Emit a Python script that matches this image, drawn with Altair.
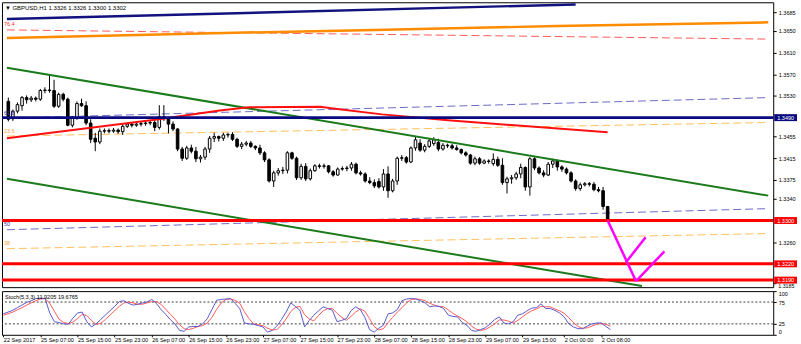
import altair as alt
import pandas as pd

# ---------------- data ----------------
opens = [1.3520,1.3488,1.3502,1.3512,1.3527,1.3523,1.3526,1.3524,1.3540,1.3541,
1.3540,1.3511,1.3533,1.3524,1.3476,1.3489,1.3516,1.3512,1.3480,1.3452,
1.3445,1.3465,1.3466,1.3465,1.3467,1.3464,1.3474,1.3478,1.3476,1.3478,
1.3479,1.3480,1.3481,1.3472,1.3492,1.3488,1.3478,1.3469,1.3432,1.3415,
1.3434,1.3428,1.3414,1.3417,1.3432,1.3452,1.3455,1.3452,1.3458,1.3459,
1.3450,1.3437,1.3441,1.3443,1.3437,1.3434,1.3425,1.3412,1.3373,1.3388,
1.3392,1.3393,1.3425,1.3415,1.3379,1.3400,1.3377,1.3392,1.3401,1.3400,
1.3401,1.3390,1.3384,1.3395,1.3396,1.3397,1.3404,1.3388,1.3386,1.3373,
1.3370,1.3372,1.3362,1.3386,1.3355,1.3373,1.3415,1.3416,1.3408,1.3434,
1.3443,1.3430,1.3437,1.3442,1.3444,1.3432,1.3439,1.3438,1.3434,1.3431,
1.3425,1.3421,1.3406,1.3414,1.3406,1.3410,1.3405,1.3413,1.3402,1.3370,
1.3377,1.3379,1.3386,1.3398,1.3362,1.3414,1.3397,1.3388,1.3384,1.3404,
1.3410,1.3399,1.3395,1.3388,1.3373,1.3359,1.3366,1.3368,1.3367,1.3357,
1.3355,1.3326]
highs = [1.3527,1.3505,1.3518,1.3530,1.3531,1.3530,1.3529,1.3543,1.3546,1.3569,
1.3560,1.3536,1.3536,1.3527,1.3493,1.3520,1.3525,1.3520,1.3487,1.3462,
1.3470,1.3470,1.3470,1.3471,1.3470,1.3478,1.3481,1.3481,1.3482,1.3483,
1.3484,1.3485,1.3485,1.3513,1.3513,1.3491,1.3483,1.3471,1.3436,1.3438,
1.3440,1.3436,1.3421,1.3436,1.3456,1.3462,1.3457,1.3462,1.3462,1.3463,
1.3453,1.3445,1.3447,1.3447,1.3439,1.3440,1.3428,1.3415,1.3392,1.3397,
1.3399,1.3428,1.3427,1.3418,1.3405,1.3406,1.3396,1.3404,1.3405,1.3405,
1.3402,1.3393,1.3398,1.3400,1.3401,1.3408,1.3407,1.3392,1.3389,1.3380,
1.3376,1.3378,1.3395,1.3400,1.3377,1.3418,1.3421,1.3419,1.3437,1.3455,
1.3450,1.3441,1.3451,1.3454,1.3451,1.3443,1.3442,1.3442,1.3439,1.3433,
1.3428,1.3423,1.3418,1.3417,1.3413,1.3413,1.3424,1.3418,1.3415,1.3381,
1.3384,1.3390,1.3405,1.3400,1.3417,1.3417,1.3400,1.3393,1.3408,1.3414,
1.3412,1.3402,1.3398,1.3391,1.3376,1.3370,1.3371,1.3371,1.3371,1.3362,
1.3362,1.3326]
lows = [1.3483,1.3484,1.3498,1.3503,1.3516,1.3519,1.3520,1.3521,1.3535,1.3536,
1.3508,1.3508,1.3520,1.3474,1.3472,1.3486,1.3510,1.3476,1.3443,1.3428,
1.3441,1.3461,1.3461,1.3462,1.3460,1.3458,1.3471,1.3472,1.3473,1.3474,
1.3475,1.3476,1.3465,1.3468,1.3484,1.3461,1.3465,1.3428,1.3410,1.3412,
1.3424,1.3408,1.3407,1.3412,1.3425,1.3445,1.3446,1.3447,1.3453,1.3447,
1.3434,1.3432,1.3437,1.3434,1.3430,1.3421,1.3408,1.3370,1.3362,1.3383,
1.3386,1.3387,1.3412,1.3375,1.3375,1.3373,1.3374,1.3390,1.3396,1.3396,
1.3387,1.3381,1.3383,1.3392,1.3391,1.3392,1.3385,1.3383,1.3370,1.3367,
1.3360,1.3359,1.3355,1.3342,1.3352,1.3366,1.3410,1.3405,1.3406,1.3429,
1.3427,1.3426,1.3434,1.3438,1.3428,1.3429,1.3434,1.3431,1.3429,1.3422,
1.3418,1.3403,1.3402,1.3403,1.3404,1.3405,1.3401,1.3399,1.3366,1.3350,
1.3368,1.3375,1.3378,1.3355,1.3346,1.3393,1.3385,1.3380,1.3382,1.3397,
1.3392,1.3390,1.3385,1.3370,1.3355,1.3355,1.3363,1.3363,1.3354,1.3352,
1.3320,1.3300]
closes = [1.3487,1.3502,1.3514,1.3527,1.3523,1.3526,1.3524,1.3540,1.3541,1.3540,
1.3511,1.3533,1.3524,1.3476,1.3489,1.3516,1.3512,1.3480,1.3450,1.3445,
1.3465,1.3466,1.3465,1.3467,1.3464,1.3474,1.3478,1.3476,1.3478,1.3479,
1.3480,1.3481,1.3472,1.3492,1.3488,1.3478,1.3469,1.3432,1.3415,1.3434,
1.3428,1.3414,1.3417,1.3432,1.3452,1.3455,1.3452,1.3458,1.3459,1.3450,
1.3437,1.3441,1.3443,1.3437,1.3434,1.3425,1.3412,1.3373,1.3388,1.3392,
1.3393,1.3425,1.3415,1.3379,1.3400,1.3377,1.3392,1.3401,1.3400,1.3401,
1.3390,1.3384,1.3395,1.3396,1.3397,1.3404,1.3388,1.3386,1.3373,1.3370,
1.3364,1.3362,1.3386,1.3355,1.3373,1.3415,1.3416,1.3408,1.3434,1.3449,
1.3430,1.3437,1.3447,1.3449,1.3432,1.3439,1.3438,1.3434,1.3431,1.3425,
1.3421,1.3406,1.3414,1.3406,1.3410,1.3409,1.3413,1.3402,1.3370,1.3377,
1.3379,1.3386,1.3398,1.3362,1.3414,1.3397,1.3388,1.3384,1.3404,1.3410,
1.3399,1.3395,1.3388,1.3373,1.3359,1.3366,1.3368,1.3367,1.3357,1.3355,
1.3326,1.3302]

stoch_k = [48,52,56,62,68,74,78,83,84,83,
50,30,28,25,24,38,50,52,30,18,
25,35,45,55,65,76,78,72,68,70,
73,75,81,72,58,47,35,25,10,8,
18,19,19,25,37,58,79,81,82,83,
72,60,27,25,24,21,18,6,10,20,
35,52,73,65,56,18,33,45,55,64,
60,56,30,33,37,55,64,58,40,12,
6,15,22,48,50,58,78,82,83,82,
78,73,64,66,65,60,45,42,41,28,
22,10,8,12,16,25,35,41,27,25,
30,45,48,55,61,62,71,60,60,56,
50,41,25,18,14,14,20,25,27,27,
19,11.92]
stoch_d = [45,48,52,57,62,68,73,78,82,83,
72,54,36,28,26,29,37,47,44,33,
24,26,35,45,55,65,73,75,73,70,
70,73,76,76,70,59,47,36,23,14,
12,15,19,21,27,40,58,73,81,82,
79,72,53,37,25,23,21,15,11,12,
22,36,53,63,65,46,36,32,44,55,
60,60,49,40,33,42,52,59,54,37,
19,11,14,28,40,52,62,73,81,82,
81,78,72,68,65,64,57,49,43,37,
30,20,13,10,12,18,25,34,34,31,
27,33,41,49,55,59,65,64,64,59,
55,49,39,28,19,15,16,20,24,26,
24,19.68]

time_tick_idx = [0,8,16,24,32,40,48,56,64,72,80,88,96,104,112,121,129]
time_tick_lbl = ["22 Sep 2017","25 Sep 07:00","25 Sep 15:00","25 Sep 23:00","26 Sep 07:00",
                 "26 Sep 15:00","26 Sep 23:00","27 Sep 07:00","27 Sep 15:00","27 Sep 23:00",
                 "28 Sep 07:00","28 Sep 15:00","28 Sep 23:00","29 Sep 07:00","29 Sep 15:00",
                 "2 Oct 00:00","2 Oct 08:00"]
price_ticks = [1.3685,1.3650,1.3610,1.3570,1.3530,1.3455,1.3415,1.3375,1.3340,1.3260]
bottom_tick = [1.3185]
stoch_ticks = [0,25,75,100]
stoch_levels = [75,25]

navy_level = [1.3490]
red_levels = [1.3300,1.3220,1.3190]

# trend / indicator lines: bar index and price of their vertices
navy_trend_i = [-0.3,124.0];  navy_trend_p = [1.3672,1.3699]
orange_i = [-0.3,40,80,120,166.1]; orange_p = [1.3637,1.3645,1.3652,1.3659,1.3666]
red_dash_i = [-0.3,166.1];  red_dash_p = [1.3652,1.3635]
green_up_i = [-0.3,166.1];  green_up_p = [1.3582,1.3346]
green_lo_i = [-0.3,138.5];  green_lo_p = [1.3377,1.3179]
ma_i = [-0.3,32.9,46.2,52.6,68.2,71.0,81.7,96.1,131.0]
ma_p = [1.3452,1.3487,1.3503,1.3509,1.3510,1.3507,1.3496,1.3485,1.3463]
blue_dash_hi_i = [-0.3,166.1]; blue_dash_hi_p = [1.3489,1.3527]
orng_dash_hi_i = [-0.3,166.1]; orng_dash_hi_p = [1.3456,1.3481]
blue_dash_lo_i = [-0.3,166.1]; blue_dash_lo_p = [1.3283,1.3322]
orng_dash_lo_i = [-0.3,166.1]; orng_dash_lo_p = [1.3248,1.3276]
mag1_i = [131.0,137.2]; mag1_p = [1.3300,1.3188]
mag2_i = [135.0,139.3]; mag2_p = [1.3223,1.3269]
mag3_i = [137.2,143.4]; mag3_p = [1.3188,1.3243]

fib_lbl = ["76.4","61.8","23.6","50","38"]
fib_lbl_p = [1.3663,1.3499,1.3465,1.3294,1.3258]
fib_lbl_col = ["#ff3030","#3a3ab0","#f0a030","#3a3ab0","#f0a030"]

title_txt = "\u25bc GBPUSD,H1  1.3326 1.3326 1.3300 1.3302"
stoch_txt = "Stoch(5,3,3) 11.9205 19.6765"

# ---------------- chart ----------------
FONT = "Liberation Sans"
n = len(opens)
bars = pd.DataFrame({"i": list(range(n)), "o": opens, "h": highs, "l": lows, "c": closes})

XS = alt.Scale(domain=[-0.3, 166.1], nice=False, zero=False)
YS = alt.Scale(domain=[1.3177, 1.3703], nice=False, zero=False)
SY = alt.Scale(domain=[0, 100], nice=False, zero=False)

yaxis = alt.Axis(orient="right", values=price_ticks + bottom_tick, format=".4f", labelFontSize=5.6,
                 labelExpr="datum.value < 1.3200 ? '' : datum.label",
                 tickSize=3, labelPadding=2, domain=False, grid=False, title=None,
                 labelOverlap=False, labelFont=FONT, labelColor="black", tickColor="black")
xnone = alt.X("i:Q", scale=XS, axis=None)


def Y(field):
    return alt.Y(field, scale=YS, axis=yaxis)


wicks = alt.Chart(bars).mark_rule(color="black", strokeWidth=1).encode(
    x=xnone, y=Y("l:Q"), y2="h:Q")
bodies = alt.Chart(bars).mark_bar(width=2.6, stroke="black", strokeWidth=1).encode(
    x=xnone, y=Y("o:Q"), y2="c:Q",
    fill=alt.condition("datum.c >= datum.o", alt.value("white"), alt.value("black")))


def line(xs, ps, color, width, dash=None):
    df = pd.DataFrame({"i": xs, "p": ps, "k": list(range(len(xs)))})
    kw = dict(color=color, strokeWidth=width, clip=True)
    if dash:
        kw["strokeDash"] = dash
    return alt.Chart(df).mark_line(**kw).encode(x=xnone, y=Y("p:Q"), order="k:Q")


def hline(levels, color, width):
    return alt.Chart(pd.DataFrame({"p": levels})).mark_rule(color=color, strokeWidth=width).encode(y=Y("p:Q"))


layers = [
    line(blue_dash_hi_i, blue_dash_hi_p, "#6a6ac8", 1, [8, 4]),
    line(orng_dash_hi_i, orng_dash_hi_p, "#ffbe5a", 1, [8, 4]),
    line(blue_dash_lo_i, blue_dash_lo_p, "#6a6ac8", 1, [8, 4]),
    line(orng_dash_lo_i, orng_dash_lo_p, "#ffbe5a", 1, [8, 4]),
    line(red_dash_i, red_dash_p, "#ff5a5a", 1, [8, 4]),
    wicks, bodies,
    line(navy_trend_i, navy_trend_p, "#12127e", 2.5),
    line(orange_i, orange_p, "#ff8c00", 2.5),
    line(green_up_i, green_up_p, "#1b7a1b", 2),
    line(green_lo_i, green_lo_p, "#1b7a1b", 2),
    line(ma_i, ma_p, "#ff1010", 2),
    hline(navy_level, "#0a0a80", 3),
    hline(red_levels, "#ff0000", 3),
    line(mag1_i, mag1_p, "#ff00ff", 2.5),
    line(mag2_i, mag2_p, "#ff00ff", 2.5),
    line(mag3_i, mag3_p, "#ff00ff", 2.5),
]

fibdf = pd.DataFrame({"t": fib_lbl, "p": fib_lbl_p, "col": fib_lbl_col})
layers.append(alt.Chart(fibdf).mark_text(align="left", baseline="middle", fontSize=5.5, font=FONT).encode(
    x=alt.value(2), y=Y("p:Q"), text="t:N", color=alt.Color("col:N", scale=None)))

# bottom price label, partly below the 1.3190 box as in the reference
btdf = pd.DataFrame({"p": bottom_tick, "t": [f"{v:.4f}" for v in bottom_tick]})
layers.append(alt.Chart(btdf).mark_text(align="left", baseline="top", fontSize=5.4, font=FONT,
                                        color="black", dy=1).encode(x=alt.value(782), y=Y("p:Q"), text="t:N"))

hl_p = navy_level + red_levels
hldf = pd.DataFrame({"p": hl_p, "t": [f"{v:.4f}" for v in hl_p],
                     "col": ["#0a0a80"] + ["#ff0000"] * len(red_levels)})
layers.append(alt.Chart(hldf).mark_rule(strokeWidth=7, strokeCap="butt").encode(
    x=alt.value(778), x2=alt.value(801), y=Y("p:Q"), color=alt.Color("col:N", scale=None)))
layers.append(alt.Chart(hldf).mark_text(align="left", baseline="middle", fontSize=5.6, font=FONT,
                                        color="white").encode(x=alt.value(781), y=Y("p:Q"), text="t:N"))

layers.append(alt.Chart(pd.DataFrame({"t": [title_txt]})).mark_text(
    align="left", baseline="middle", fontSize=6, font=FONT, color="black").encode(
    x=alt.value(3), y=alt.value(6), text="t:N"))

main = alt.layer(*layers).properties(width=777, height=287)

# stochastic panel
st = pd.DataFrame({"i": list(range(n)), "k": stoch_k, "d": stoch_d})
label_expr = ("[" + ",".join(f"'{t}'" for t in time_tick_lbl) + "][indexof(["
              + ",".join(str(v) for v in time_tick_idx) + "], datum.value)]")
xaxis = alt.Axis(values=time_tick_idx, labelExpr=label_expr, labelAlign="left", labelFontSize=5.6,
                 tickSize=2, labelPadding=1, domain=False, grid=False, title=None, labelOverlap=False,
                 labelFont=FONT, labelColor="black", tickColor="black", labelBound=False)
saxis = alt.Axis(orient="right", values=stoch_ticks, format="d", labelFontSize=5.6, tickSize=3,
                 labelPadding=2, domain=False, grid=False, title=None, labelFlush=True,
                 labelOverlap=False, labelFont=FONT, labelColor="black", tickColor="black")
sx = alt.X("i:Q", scale=XS, axis=xaxis)

lev = alt.Chart(pd.DataFrame({"v": stoch_levels})).mark_rule(color="#404040", strokeDash=[2, 2], strokeWidth=1).encode(
    y=alt.Y("v:Q", scale=SY, axis=saxis))
dl = alt.Chart(st).mark_line(color="#ff5a5a", strokeWidth=1).encode(x=sx, y=alt.Y("d:Q", scale=SY, axis=saxis))
kl = alt.Chart(st).mark_line(color="#5a5acc", strokeWidth=1).encode(x=sx, y=alt.Y("k:Q", scale=SY, axis=saxis))
stxt = alt.Chart(pd.DataFrame({"t": [stoch_txt]})).mark_text(
    align="left", baseline="middle", fontSize=5.6, font=FONT, color="black").encode(
    x=alt.value(3), y=alt.value(6), text="t:N")
stoch = alt.layer(lev, dl, kl, stxt).properties(width=777, height=44)

chart = alt.vconcat(main, stoch, spacing=0).properties(
    padding=0, background="white"
).configure_view(stroke="black", strokeWidth=1)

chart.save("out.html", embed_options={"renderer": "svg", "actions": False})
